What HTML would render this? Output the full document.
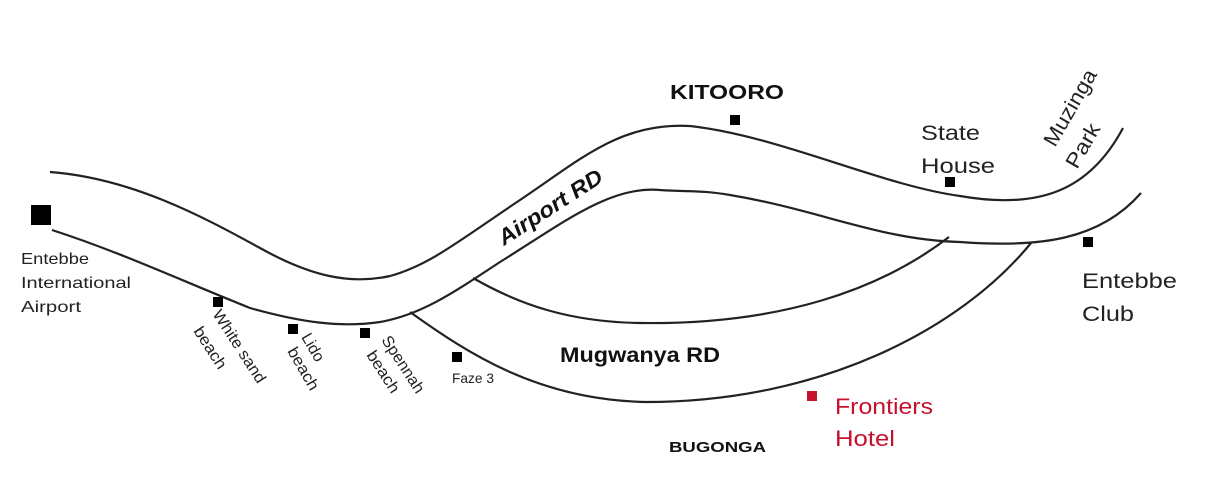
<!DOCTYPE html>
<html><head><meta charset="utf-8"><style>
html,body{margin:0;padding:0;background:#fff;width:1214px;height:500px;overflow:hidden}
text{font-family:"Liberation Sans",sans-serif}
</style></head><body>
<svg width="1214" height="500" viewBox="0 0 1214 500" xmlns="http://www.w3.org/2000/svg">
<g fill="none" stroke="#222" stroke-width="2.2">
<path d="M50,172 C130,178 200,215 260,248 C310,276 350,285 390,276 C430,265 460,240 520,200 C580,160 620,122 690,126 C780,136 880,185 960,196 C1040,210 1090,190 1123,128"/>
<path d="M52,230 C120,252 180,280 250,308 C300,322 340,328 380,322 C420,315 450,295 500,262 C560,225 610,185 660,190 C690,192 700,190 730,195 C820,210 880,240 960,242 C1040,248 1100,240 1141,193"/>
<path d="M473,278 C520,305 570,322 640,323 C780,325 880,290 949,237"/>
<path d="M410,312 C470,355 540,400 646,402 C820,402 960,330 1031,243"/>
</g>
<g fill="#000">
<rect x="31" y="205" width="20" height="20"/>
<rect x="213" y="297" width="10" height="10"/>
<rect x="288" y="324" width="10" height="10"/>
<rect x="360" y="328" width="10" height="10"/>
<rect x="452" y="352" width="10" height="10"/>
<rect x="730" y="115" width="10" height="10"/>
<rect x="945" y="177" width="10" height="10"/>
<rect x="1083" y="237" width="10" height="10"/>
</g>
<rect x="807" y="391" width="10" height="10" fill="#c8102e"/>
<g fill="#222">
<text x="21" y="264" font-size="16" textLength="68" lengthAdjust="spacingAndGlyphs">Entebbe</text>
<text x="21" y="288" font-size="16" textLength="110" lengthAdjust="spacingAndGlyphs">International</text>
<text x="21" y="312" font-size="16" textLength="60" lengthAdjust="spacingAndGlyphs">Airport</text>
<text transform="translate(212,314) rotate(57)" font-size="16" textLength="84" lengthAdjust="spacingAndGlyphs">White sand</text>
<text transform="translate(193,331) rotate(57)" font-size="16" textLength="47" lengthAdjust="spacingAndGlyphs">beach</text>
<text transform="translate(301,337) rotate(60)" font-size="16" textLength="30" lengthAdjust="spacingAndGlyphs">Lido</text>
<text transform="translate(287,351) rotate(60)" font-size="16" textLength="47" lengthAdjust="spacingAndGlyphs">beach</text>
<text transform="translate(381,340) rotate(57)" font-size="16" textLength="65" lengthAdjust="spacingAndGlyphs">Spennah</text>
<text transform="translate(366,355) rotate(57)" font-size="16" textLength="47" lengthAdjust="spacingAndGlyphs">beach</text>
<text x="452" y="383" font-size="14" textLength="42" lengthAdjust="spacingAndGlyphs">Faze 3</text>
<text x="921" y="140" font-size="21" textLength="59" lengthAdjust="spacingAndGlyphs">State</text>
<text x="921" y="173" font-size="21" textLength="74" lengthAdjust="spacingAndGlyphs">House</text>
<text x="1082" y="288" font-size="21" textLength="95" lengthAdjust="spacingAndGlyphs">Entebbe</text>
<text x="1082" y="321" font-size="21" textLength="52" lengthAdjust="spacingAndGlyphs">Club</text>
<text transform="translate(1055,148) rotate(-60)" font-size="21" textLength="85" lengthAdjust="spacingAndGlyphs">Muzinga</text>
<text transform="translate(1077,170) rotate(-60)" font-size="21" textLength="48" lengthAdjust="spacingAndGlyphs">Park</text>
<text x="835" y="414" font-size="22" fill="#c8102e" textLength="98" lengthAdjust="spacingAndGlyphs">Frontiers</text>
<text x="835" y="446" font-size="22" fill="#c8102e" textLength="60" lengthAdjust="spacingAndGlyphs">Hotel</text>
</g>
<g font-weight="bold" fill="#111">
<text x="670" y="99" font-size="20" textLength="114" lengthAdjust="spacingAndGlyphs">KITOORO</text>
<text x="669" y="452" font-size="15" textLength="97" lengthAdjust="spacingAndGlyphs">BUGONGA</text>
<text x="560" y="362" font-size="21" textLength="160" lengthAdjust="spacingAndGlyphs">Mugwanya RD</text>
<text transform="translate(504,246) rotate(-33)" font-size="22" font-style="italic" textLength="120" lengthAdjust="spacingAndGlyphs">Airport RD</text>
</g>
</svg>
</body></html>
